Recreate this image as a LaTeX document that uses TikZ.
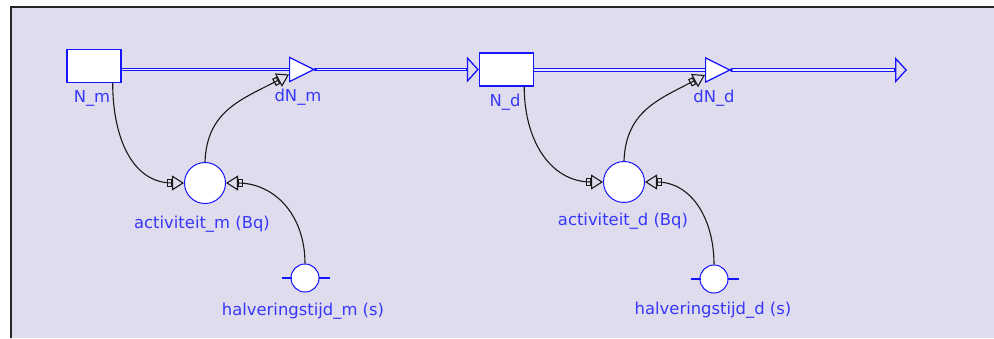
\documentclass[tikz,border=0pt]{standalone}
\usepackage{fontspec}
\setmainfont{DejaVu Sans}
\usetikzlibrary{arrows.meta,shapes.geometric,calc}

\definecolor{canvas}{RGB}{223,220,237}
\definecolor{sdblue}{RGB}{20,20,255}
\definecolor{sdtext}{RGB}{55,55,250}

\tikzset{
  stock/.style={draw=sdblue, fill=white, line width=1.4pt, rectangle,
    minimum width=54pt, minimum height=33pt, inner sep=0pt},
  valve/.style={draw=sdblue, fill=white, line width=1.2pt, isosceles triangle,
    isosceles triangle stretches, minimum width=24pt, minimum height=24pt,
    inner sep=0pt, anchor=lower side},
  aux/.style={draw=sdblue, fill=white, line width=1pt, circle,
    minimum size=41pt, inner sep=0pt},
  const/.style={draw=sdblue, fill=white, line width=1pt, circle,
    minimum size=28pt, inner sep=0pt},
  tick/.style={draw=sdblue, line width=2.8pt},
  lbl/.style={text=sdtext, font=\fontsize{16.4}{19}\selectfont, inner sep=0pt},
  pipe/.style={draw=sdblue, line width=1.2pt, double=white!40!canvas,
    double distance=1.4pt},
  pipehead/.style={draw=sdblue, line width=1.3pt,
    -{Triangle[open, length=12pt, width=26pt]}},
  link/.style={draw=black!90, line width=1.1pt,
    -{Rectangle[open, length=5pt, width=8pt, sep=0pt]Triangle[open, length=12pt, width=15pt]}},
  dot/.style={fill=sdblue, circle, inner sep=0pt, minimum size=3.5pt}
}

\begin{document}
\begin{tikzpicture}[x=1pt, y=1pt]
  \useasboundingbox (0,0) rectangle (994,-338);
  % window background with its frame on the left and top
  \fill[white] (0,0) rectangle (994,-338);
  \fill[canvas] (11,-7) rectangle (994,-338);
  \draw[black!85, line width=1.6pt] (11,-338) -- (11,-7) -- (994,-7);

  % stocks, flows and variables
  \node[stock] (Nm) at (94,-66) {};
  \node[valve] (dNm) at (289,-69.5) {};
  \node[stock] (Nd) at (506.5,-69.5) {};
  \node[valve] (dNd) at (705,-70) {};
  \coordinate (sink) at (907,-70);
  \node[aux] (am) at (205,-183) {};
  \node[aux] (ad) at (624,-182) {};
  \node[const] (hm) at (305,-278) {};
  \node[const] (hd) at (714,-279) {};

  % flow pipes
  \draw[pipe] (Nm.east |- dNm.lower side) -- (dNm.lower side);
  \draw[pipe] (dNm.apex) -- ([xshift=-11pt]Nd.west |- dNm.apex);
  \draw[pipehead] ([xshift=-13pt]Nd.west |- dNm.apex) -- (Nd.west |- dNm.apex);
  \draw[pipe] (Nd.east |- dNd.lower side) -- (dNd.lower side);
  \draw[pipe] (dNd.apex) -- ([xshift=-11pt]sink);
  \draw[pipehead] ([xshift=-13pt]sink) -- (sink);

  % redraw valves above the pipes
  \node[valve] at (289,-69.5) {};
  \node[valve] at (705,-70) {};
  \node[dot] at (dNm.apex) {};
  \node[dot] at (dNd.apex) {};

  % constant markers
  \draw[tick] ([xshift=-9pt]hm.west) -- ([xshift=1pt]hm.west);
  \draw[tick] ([xshift=-1pt]hm.east) -- ([xshift=10pt]hm.east);
  \draw[tick] ([xshift=-9pt]hd.west) -- ([xshift=1pt]hd.west);
  \draw[tick] ([xshift=-1pt]hd.east) -- ([xshift=10pt]hd.east);

  % information links
  \draw[link] ($(Nm.south east)+(-9,0)$) to[out=-90, in=180, looseness=1.1] (am.west);
  \draw[link] (am.north) to[out=88, in=208, looseness=1.1] ($(dNm.lower side)+(0,-5)$);
  \draw[link] (hm.north) to[out=90, in=0, looseness=1.1] (am.east);
  \draw[link] ($(Nd.south east)+(-10,0)$) to[out=-90, in=180, looseness=1.1] (ad.west);
  \draw[link] (ad.north) to[out=88, in=208, looseness=1.1] ($(dNd.lower side)+(0,-5)$);
  \draw[link] (hd.north) to[out=90, in=0, looseness=1.1] (ad.east);

  % labels
  \node[lbl] (lNm) at (92,-98) {N\_m};
  \node[lbl] (ldNm) at (298,-97) {dN\_m};
  \node[lbl] (lNd) at (505,-102) {N\_d};
  \node[lbl] (ldNd) at (714,-98) {dN\_d};
  \node[lbl] (lam) at (202,-224) {activiteit\_m (Bq)};
  \node[lbl] (lhm) at (303,-311) {halveringstijd\_m (s)};
  \node[lbl] (lad) at (623,-221) {activiteit\_d (Bq)};
  \node[lbl] (lhd) at (713,-310) {halveringstijd\_d (s)};
\end{tikzpicture}
\end{document}
